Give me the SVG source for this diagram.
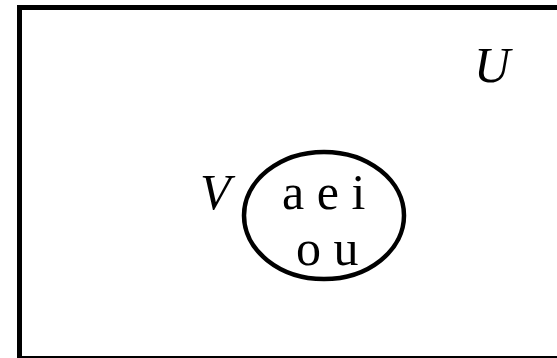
<svg xmlns="http://www.w3.org/2000/svg" width="557" height="358" viewBox="0 0 557 358">
<style>
.shape{fill:none;stroke:#000;}
.t{font-family:"Liberation Serif","Times New Roman",serif;font-size:50px;fill:#000;}
.it{font-style:italic;}
</style>
<rect width="557" height="358" fill="#fff"/>
<g id="universe">
<rect class="shape" x="19.5" y="7.5" width="560" height="351" stroke-width="5"/>
<text class="t it" x="474" y="82">U</text>
</g>
<g id="setV">
<ellipse class="shape" cx="324" cy="215.5" rx="80" ry="63.5" stroke-width="4.5"/>
<text class="t it" x="200" y="209">V</text>
<text class="t" x="282" y="209">a e i</text>
<text class="t" x="296" y="265">o u</text>
</g>
</svg>
